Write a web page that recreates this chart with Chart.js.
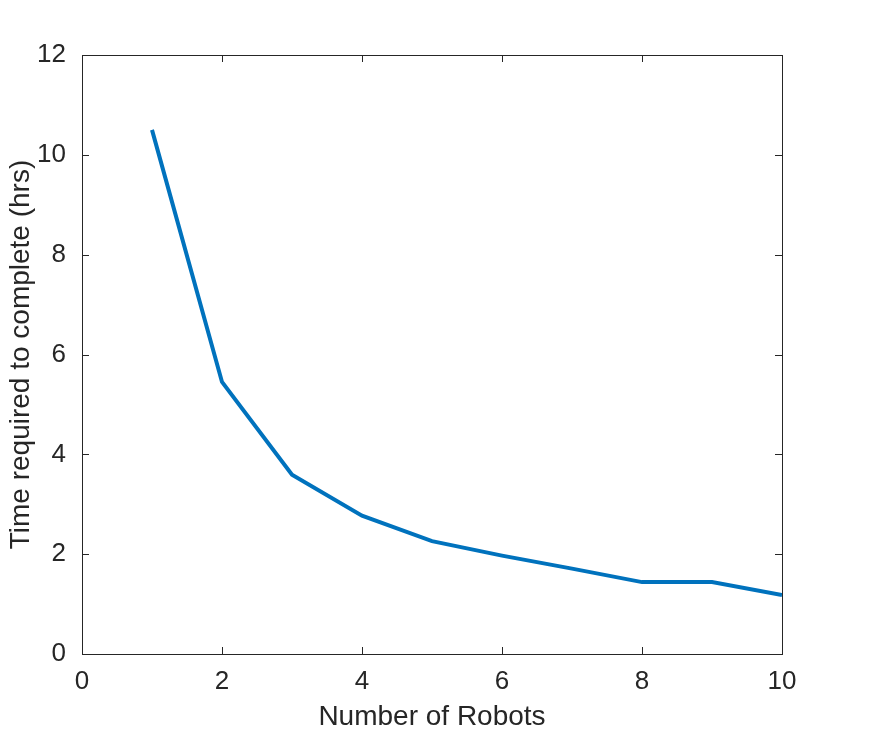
<!DOCTYPE html>
<html><head><meta charset="utf-8">
<script src="https://cdn.jsdelivr.net/npm/chart.js@4"></script>
<style>html,body{margin:0;background:#fff}#w{width:869px;height:738px}</style>
</head><body><div id="w"><canvas id="c"></canvas></div>
<script>
const robots = [1,2,3,4,5,6,7,8,9,10];
const hours = [10.5,5.45,3.59,2.77,2.26,1.97,1.71,1.44,1.44,1.18];
const xTicks = [0,2,4,6,8,10];
const yTicks = [0,2,4,6,8,10,12];
const boxPlugin = {
  id:'box',
  afterDraw(ch){
    const {ctx, chartArea:a, scales:{x,y}} = ch;
    ctx.save(); ctx.strokeStyle='#262626'; ctx.lineWidth=1;
    ctx.strokeRect(a.left+0.5,a.top+0.5,a.right-a.left,a.bottom-a.top);
    ctx.beginPath();
    xTicks.forEach(v=>{const p=Math.round(x.getPixelForValue(v))+0.5;
      ctx.moveTo(p,a.bottom);ctx.lineTo(p,a.bottom-7);ctx.moveTo(p,a.top);ctx.lineTo(p,a.top+7);});
    yTicks.forEach(v=>{const p=Math.round(y.getPixelForValue(v))+0.5;
      ctx.moveTo(a.left,p);ctx.lineTo(a.left+7,p);ctx.moveTo(a.right,p);ctx.lineTo(a.right-7,p);});
    ctx.stroke(); ctx.restore();
  }
};
new Chart(document.getElementById('c'),{
  type:'line',
  data:{datasets:[{data:robots.map((r,i)=>({x:r,y:hours[i]})),borderColor:'#0072BD',borderWidth:4,pointRadius:0,tension:0,fill:false}]},
  options:{
    responsive:true,maintainAspectRatio:false,animation:false,
    layout:{padding:{top:55,right:87,left:0,bottom:0}},
    plugins:{legend:{display:false},tooltip:{enabled:false}},
    scales:{
      x:{type:'linear',min:0,max:10,
        afterBuildTicks:s=>{s.ticks=xTicks.map(v=>({value:v}));},
        afterFit:s=>{s.height=84;},
        grid:{display:false},border:{display:false},
        ticks:{color:'#262626',font:{family:'Liberation Sans, Arial',size:26},padding:4},
        title:{display:true,text:'Number of Robots',color:'#262626',font:{family:'Liberation Sans, Arial',size:28},padding:{top:0}}},
      y:{min:0,max:12,
        afterBuildTicks:s=>{s.ticks=yTicks.map(v=>({value:v}));},
        afterFit:s=>{s.width=82;},
        grid:{display:false},border:{display:false},
        ticks:{color:'#262626',font:{family:'Liberation Sans, Arial',size:26},padding:8},
        title:{display:true,text:'Time required to complete (hrs)',color:'#262626',font:{family:'Liberation Sans, Arial',size:28},padding:{bottom:4}}}
    }
  },
  plugins:[boxPlugin]
});
</script></body></html>
